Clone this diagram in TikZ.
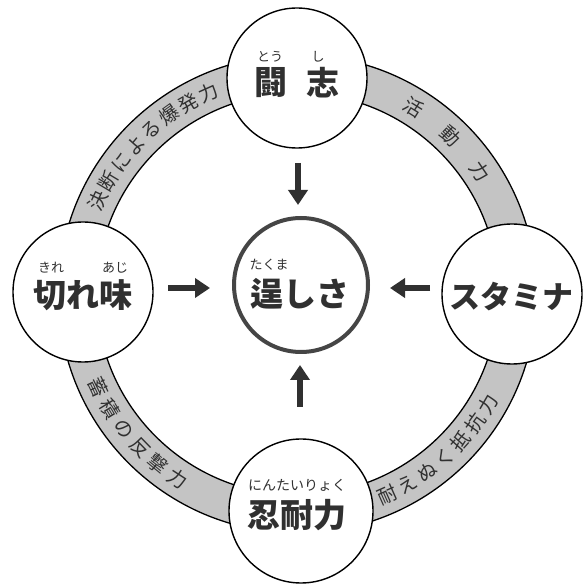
\documentclass[tikz,border=0pt]{standalone}
\usepackage{fontspec}
\newfontfamily\jp{Noto Sans CJK JP}
\usetikzlibrary{arrows.meta,calc}
\definecolor{bandgray}{HTML}{C4C4C4}
\definecolor{ink}{HTML}{303030}
\definecolor{corering}{HTML}{454545}
\begin{document}
\begin{tikzpicture}[x=1pt,y=1pt,
  disc/.style={circle, draw=black, line width=1.4pt, fill=white, minimum size=140pt, inner sep=0pt},
  core/.style={circle, draw=corering, line width=4pt, fill=white, minimum size=134pt, inner sep=0pt},
  maintxt/.style={font=\jp\bfseries\fontsize{33}{33}\selectfont, text=ink, inner sep=0pt},
  rubytxt/.style={font=\jp\fontsize{13}{13}\selectfont, text=ink, inner sep=0pt},
  bandtxt/.style={font=\jp\fontsize{19.5}{19.5}\selectfont, text=ink, inner sep=0pt},
  bigarrow/.style={line width=6pt, draw=ink, -{Triangle[width=19pt,length=15pt]}}
]
\fill[white] (0,0) rectangle (584,584);
\useasboundingbox (0,0) rectangle (584,584);

% ring band
\coordinate (ring) at (297.5,290);
\fill[bandgray, even odd rule] (ring) circle (239) (ring) circle (201);
\draw[line width=1.3pt] (ring) circle (239);
\draw[line width=1.3pt] (ring) circle (201);

% band labels
\foreach \ch [count=\i from 0] in {決,断,に,よ,る,爆,発,力}{
  \pgfmathsetmacro\a{155-\i*5.857}
  \node[bandtxt, rotate=\a-90] (tl\i) at ($(ring)+(\a:220)$) {\ch};
}
\foreach \ch [count=\i from 0] in {活,動,力}{
  \pgfmathsetmacro\a{58-\i*12}
  \node[bandtxt, rotate=\a-90] (tr\i) at ($(ring)+(\a:220)$) {\ch};
}
\foreach \ch [count=\i from 0] in {蓄,積,の,反,撃,力}{
  \pgfmathsetmacro\a{205+\i*6.4}
  \node[bandtxt, rotate=\a+90] (bl\i) at ($(ring)+(\a:220)$) {\ch};
}
\foreach \ch [count=\i from 0] in {耐,え,ぬ,く,抵,抗,力}{
  \pgfmathsetmacro\a{294+\i*6}
  \node[bandtxt, rotate=\a+90] (br\i) at ($(ring)+(\a:220)$) {\ch};
}

% circles
\node[disc] (toshi) at (297,506) {};
\node[disc] (kire) at (83,292) {};
\node[disc] (stamina) at (512,290) {};
\node[disc, minimum size=144pt] (nintai) at (301,73) {};
\node[core] (takuma) at (301,299) {};

% texts
\node[maintxt] (t1) at (271,501) {闘};
\node[maintxt] (t2) at (323,501) {志};
\node[rubytxt] (r1) at (270,527) {とう};
\node[rubytxt] (r2) at (318,527) {し};

\node[maintxt] (k1) at (83,289) {切れ味};
\node[rubytxt] (r3) at (51,316) {きれ};
\node[rubytxt] (r4) at (115,316) {あじ};

\node[maintxt, font=\jp\bfseries\fontsize{31}{31}\selectfont] (s1) at (511,287) {スタミナ};

\node[maintxt] (c1) at (300,290) {逞しさ};
\node[rubytxt] (r5) at (269,319) {たくま};

\node[maintxt] (n1) at (297,69) {忍耐力};
\node[rubytxt, font=\jp\fontsize{14}{14}\selectfont] (r6) at (297,99) {にんたいりょく};

% arrows
\coordinate (aT1) at (298,421); \coordinate (aT2) at (298,379);
\coordinate (aB1) at (300,177); \coordinate (aB2) at (300,219);
\coordinate (aL1) at (168,296); \coordinate (aL2) at (210,296);
\coordinate (aR1) at (430,296); \coordinate (aR2) at (390,296);
\draw[bigarrow] (aT1) -- (aT2);
\draw[bigarrow] (aB1) -- (aB2);
\draw[bigarrow] (aL1) -- (aL2);
\draw[bigarrow] (aR1) -- (aR2);
\end{tikzpicture}
\end{document}
